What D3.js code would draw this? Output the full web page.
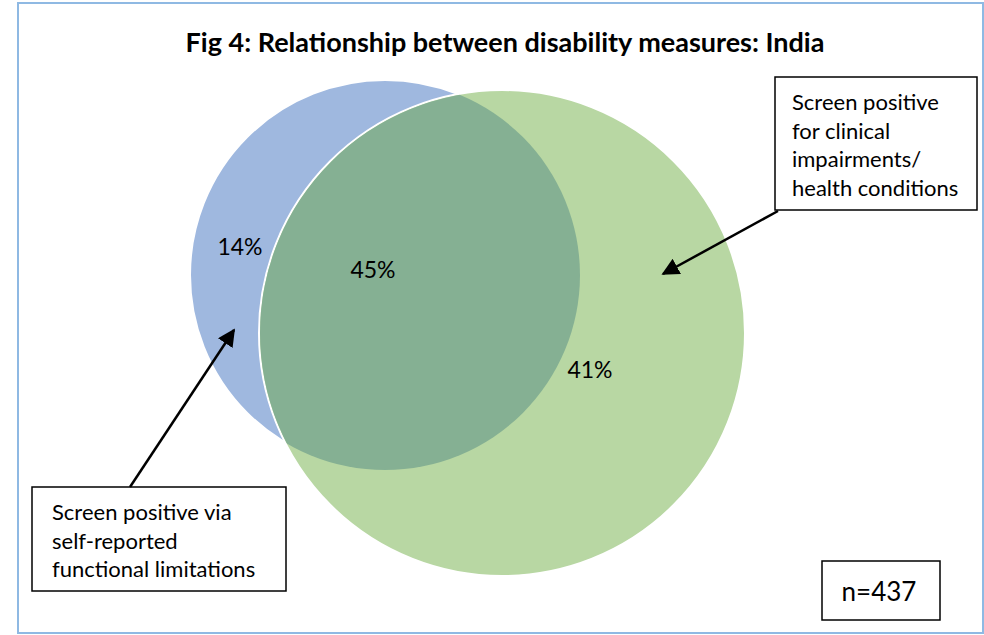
<!DOCTYPE html>
<meta charset="utf-8">
<html>
    <head>
        <script src="https://d3js.org/d3.v7.min.js"></script>
    </head>
    <style>
        body { margin: 0; background: #fff; }
        text { font-family: Lato, "Open Sans", sans-serif; fill: #000; }
    </style>
    <body>

        <div id="venn_viz"></div>

        <script>

            var title = "Fig 4: Relationship between disability measures: India";

            // the two sets and the share of the sample in each region
            var sets = ["Self-reported functional limitations", "Clinical impairments/ health conditions"];
            var setColors = ["#9fb8df", "#b8d7a3"];
            var overlapColor = "#85b093";

            var regionNames = ["Only self-reported", "Both", "Only clinical"];
            var regionValues = [14, 45, 41];

            var calloutText = [
                ["Screen positive", "for clinical", "impairments/", "health conditions"],
                ["Screen positive via", "self-reported", "functional limitations"]
            ];
            var sampleSize = 437;

            // layout of circles in venn units
            var circleX = [3.85, 5.02];
            var circleY = [2.75, 3.33];
            var circleR = [1.95, 2.43];

            var width = 984, height = 635;

            var x = d3.scaleLinear([0, 10], [0, 1000]);
            var y = d3.scaleLinear([0, 10], [0, 1000]);
            var rScale = d3.scaleLinear([0, 10], [0, 1000]);

            var svg = d3.select("#venn_viz")
                .append("svg")
                .attr("width", width)
                .attr("height", height)
                .attr("viewBox", [0, 0, width, height]);

            var defs = svg.append("defs");
            defs.append("marker")
                .attr("id", "arrow")
                .attr("viewBox", "0 0 10 10")
                .attr("refX", 9)
                .attr("refY", 5)
                .attr("markerWidth", 7)
                .attr("markerHeight", 7)
                .attr("markerUnits", "strokeWidth")
                .attr("orient", "auto")
                .append("path")
                .attr("d", "M0,0 L10,5 L0,10 Z")
                .attr("fill", "#000");

            // outer frame
            svg.append("rect")
                .attr("x", 18)
                .attr("y", 3)
                .attr("width", 965)
                .attr("height", 630)
                .attr("fill", "none")
                .attr("stroke", "#8fb9e3")
                .attr("stroke-width", 2);

            svg.append("text")
                .attr("x", 505)
                .attr("y", 52)
                .attr("text-anchor", "middle")
                .attr("font-weight", "bold")
                .attr("font-size", 27)
                .text(title);

            var circles = d3.range(sets.length).map(i => ({
                name: sets[i],
                cx: x(circleX[i]),
                cy: y(circleY[i]),
                r: rScale(circleR[i]),
                color: setColors[i]
            }));

            defs.append("clipPath")
                .attr("id", "clip-blue")
                .append("circle")
                .attr("cx", circles[0].cx)
                .attr("cy", circles[0].cy)
                .attr("r", circles[0].r);

            svg.append("g")
                .selectAll("circle")
                .data(circles)
                .join("circle")
                .attr("cx", d => d.cx)
                .attr("cy", d => d.cy)
                .attr("r", d => d.r)
                .attr("fill", d => d.color)
                .attr("stroke", "#fff")
                .attr("stroke-width", 2);

            // overlap region
            svg.append("circle")
                .attr("clip-path", "url(#clip-blue)")
                .attr("cx", circles[1].cx)
                .attr("cy", circles[1].cy)
                .attr("r", circles[1].r - 1)
                .attr("fill", overlapColor);

            // region labels
            var labelX = [2.40, 3.73, 5.90];
            var labelY = [2.55, 2.78, 3.78];
            svg.append("g")
                .selectAll("text")
                .data(regionValues)
                .join("text")
                .attr("x", (d, i) => x(labelX[i]))
                .attr("y", (d, i) => y(labelY[i]))
                .attr("text-anchor", "middle")
                .attr("font-size", 23)
                .text(d => d + "%");

            // callout boxes
            var boxes = [
                { x: 775, y: 77, w: 202, h: 133, tx: 792, ty: 110, lines: calloutText[0], from: [778, 211], to: [663, 274] },
                { x: 32, y: 487, w: 254, h: 104, tx: 52, ty: 520, lines: calloutText[1], from: [130, 487], to: [234, 330] }
            ];

            boxes.forEach(b => {
                svg.append("rect")
                    .attr("x", b.x)
                    .attr("y", b.y)
                    .attr("width", b.w)
                    .attr("height", b.h)
                    .attr("fill", "#fff")
                    .attr("stroke", "#000")
                    .attr("stroke-width", 1.5);

                svg.append("text")
                    .attr("font-size", 22)
                    .selectAll("tspan")
                    .data(b.lines)
                    .join("tspan")
                    .attr("x", b.tx)
                    .attr("y", (d, i) => b.ty + i * 28.5)
                    .text(d => d);

                svg.append("line")
                    .attr("x1", b.from[0])
                    .attr("y1", b.from[1])
                    .attr("x2", b.to[0])
                    .attr("y2", b.to[1])
                    .attr("stroke", "#000")
                    .attr("stroke-width", 2.5)
                    .attr("marker-end", "url(#arrow)");
            });

            svg.append("rect")
                .attr("x", 822)
                .attr("y", 561)
                .attr("width", 118)
                .attr("height", 59)
                .attr("fill", "#fff")
                .attr("stroke", "#000")
                .attr("stroke-width", 1.5);

            svg.append("text")
                .attr("x", 879)
                .attr("y", 601)
                .attr("text-anchor", "middle")
                .attr("font-size", 26)
                .text("n=" + sampleSize);

        </script>
    </body>
</html>
